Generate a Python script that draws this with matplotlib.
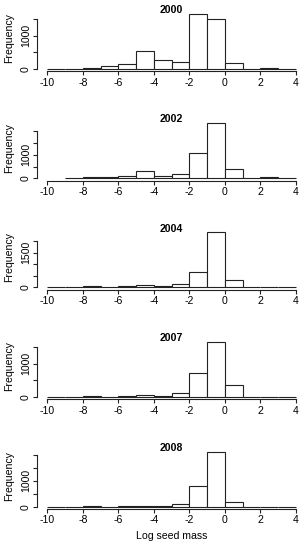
import matplotlib
matplotlib.use('Agg')
import matplotlib.pyplot as plt
import numpy as np

plt.rcParams['font.family'] = ['Liberation Sans', 'DejaVu Sans']

# ========== DATA: counts per unit bin of log seed mass ==========
years = ['2000', '2002', '2004', '2007', '2008']

edges_2000 = list(range(-10, 5))
counts_2000 = [0, 0, 40, 100, 140, 550, 270, 200, 1660, 1500, 170, 0, 30, 0]

edges_2002 = list(range(-9, 5))
counts_2002 = [10, 70, 60, 100, 290, 90, 170, 1070, 2340, 390, 0, 40, 0]

edges_2004 = list(range(-10, 5))
counts_2004 = [0, 0, 45, 5, 45, 90, 45, 130, 660, 2380, 310, 0, 0, 0]

edges_2007 = list(range(-10, 5))
counts_2007 = [0, 0, 30, 5, 40, 70, 30, 130, 730, 1660, 360, 0, 0, 0]

edges_2008 = list(range(-10, 5))
counts_2008 = [0, 0, 25, 5, 25, 40, 25, 120, 800, 2120, 170, 0, 0, 0]

yticks_2000 = [0, 500, 1000, 1500]
yticks_2002 = [0, 500, 1000, 1500, 2000]
yticks_2004 = [0, 500, 1000, 1500, 2000]
yticks_2007 = [0, 500, 1000, 1500]
yticks_2008 = [0, 500, 1000, 1500, 2000]

ylabels_2000 = ['0', '', '1000', '']
ylabels_2002 = ['0', '', '1000', '', '']
ylabels_2004 = ['0', '', '', '1500', '']
ylabels_2007 = ['0', '', '1000', '']
ylabels_2008 = ['0', '', '1000', '', '']

xticks = [-10, -8, -6, -4, -2, 0, 2, 4]

panels = [
    (years[0], edges_2000, counts_2000, yticks_2000, ylabels_2000),
    (years[1], edges_2002, counts_2002, yticks_2002, ylabels_2002),
    (years[2], edges_2004, counts_2004, yticks_2004, ylabels_2004),
    (years[3], edges_2007, counts_2007, yticks_2007, ylabels_2007),
    (years[4], edges_2008, counts_2008, yticks_2008, ylabels_2008),
]

# ========== LAYOUT (pixels) ==========
W, H = 304, 550
FS = 7.6
bottoms_px = [71.2, 180.5, 289.5, 399.2, 508.9]
ax_h = 59.5
ax_left = 37.4
ax_w = 268.3

fig = plt.figure(figsize=(W / 100, H / 100), dpi=100)

for (year, edges, counts, yt, yl), bpx in zip(panels, bottoms_px):
    ax = fig.add_axes([ax_left / W, (H - bpx) / H, ax_w / W, ax_h / H])
    edges = np.array(edges, dtype=float)
    counts = np.array(counts, dtype=float)
    ax.bar(edges[:-1], counts, width=np.diff(edges), align='edge',
           facecolor='white', edgecolor='#222222', linewidth=0.8)
    m = counts.max()
    ax.set_xlim(-10.56, 4.56)
    ax.set_ylim(-0.04 * m, 1.04 * m)

    for s in ['top', 'right']:
        ax.spines[s].set_visible(False)
    ax.spines['bottom'].set_bounds(-10, 4)
    ax.spines['left'].set_bounds(yt[0], yt[-1])
    for s in ['bottom', 'left']:
        ax.spines[s].set_linewidth(0.8)
        ax.spines[s].set_color('#222222')

    ax.set_xticks(xticks)
    ax.set_xticklabels([str(v) for v in xticks])
    ax.set_yticks(yt)
    ax.set_yticklabels(yl)
    ax.tick_params(axis='both', length=3.2, width=0.8, color='#222222',
                   labelsize=FS, pad=1.5)
    ax.tick_params(axis='y', labelrotation=90)
    for lab in ax.get_yticklabels():
        lab.set_va('center')

    # year title sits just above the plot region, baseline near its top edge
    ax.text(-3, 1.0 - 1.5 / ax_h, year, transform=ax.get_xaxis_transform(),
            ha='center', va='baseline', fontsize=FS, fontweight='bold')
    ycen = (bpx - ax_h / 2 - 3)
    fig.text(9.5 / W, (H - ycen) / H, 'Frequency', rotation=90,
             ha='center', va='center', fontsize=FS)

fig.text((ax_left + ax_w / 2) / W, (H - 536) / H, 'Log seed mass',
         ha='center', va='center', fontsize=FS)

plt.savefig('out.png', dpi=100)
